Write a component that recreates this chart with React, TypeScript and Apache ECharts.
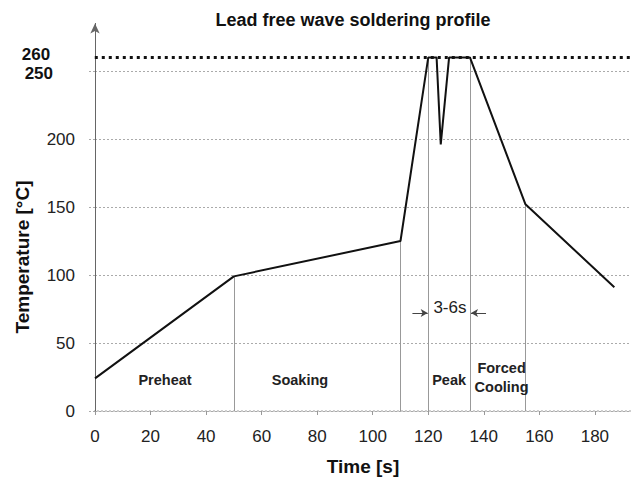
import React, { useEffect, useRef } from "react";
import * as echarts from "echarts";

const times = [0, 50, 110, 120, 123, 124.5, 127.5, 135, 155, 187];
const temps = [24, 99, 125, 260, 260, 196, 260, 260, 152, 91];
const xTicks = [0, 20, 40, 60, 80, 100, 120, 140, 160, 180];
const yTicks = [0, 50, 100, 150, 200, 250];
const peakLimit = 260;
const dropTimes = [50, 110, 120, 135, 155];
const dropTemps = [99, 125, 260, 260, 152];
const phaseNames = ["Preheat", "Soaking", "Peak", "Forced\nCooling"];
const phaseTimes = [25.2, 73.8, 127.5, 146.4];
const phaseTemps = [22.8, 22.8, 22.8, 24.6];
const dwellText = "3-6s";

const FONT = "'Liberation Sans', Arial, sans-serif";

export default function App() {
  const ref = useRef<HTMLDivElement>(null);
  useEffect(() => {
    const chart = echarts.init(ref.current!, null, { renderer: "svg" });
    const markLines: any[] = dropTimes.map((t, i) => [
      { coord: [t, dropTemps[i]], symbol: "none" },
      { coord: [t, 0], symbol: "none" },
    ]);
    markLines.push([
      { coord: [114.3, 72], symbol: "none", lineStyle: { color: "#444", width: 1, type: "solid" } },
      { coord: [119.8, 72], symbol: "arrow", symbolSize: [6, 7] },
    ]);
    markLines.push([
      { coord: [140.8, 72], symbol: "none", lineStyle: { color: "#444", width: 1, type: "solid" } },
      { coord: [135.4, 72], symbol: "arrow", symbolSize: [6, 7] },
    ]);
    const markPoints: any[] = phaseNames.map((n, i) => ({
      coord: [phaseTimes[i], phaseTemps[i]],
      symbol: "circle",
      symbolSize: 0,
      label: { show: true, position: "inside", formatter: n, fontFamily: FONT, fontWeight: "bold",
        fontSize: 14.5, color: "#222", lineHeight: 19 },
    }));
    markPoints.push({
      coord: [127.8, 76.4], symbol: "circle", symbolSize: 0,
      label: { show: true, position: "inside", formatter: dwellText, fontFamily: FONT,
        fontSize: 17, color: "#222" },
    });
    markPoints.push({
      coord: [0, peakLimit], symbol: "circle", symbolSize: 0,
      label: { show: true, position: "inside", offset: [-59, -3], formatter: String(peakLimit),
        fontFamily: FONT, fontWeight: "bold", fontSize: 17, lineHeight: 13, color: "#111" },
    });
    chart.setOption({
      animation: false,
      title: {
        text: "Lead free wave soldering profile",
        left: 348, top: 6, textAlign: "center",
        textStyle: { fontFamily: FONT, fontWeight: "bold", fontSize: 18, color: "#111" },
      },
      grid: { left: 95, top: 23.4, width: 536, height: 387.6 },
      xAxis: {
        type: "value", min: 0, max: 193, interval: 20,
        name: "Time [s]", nameLocation: "middle", nameGap: 46,
        nameTextStyle: { fontFamily: FONT, fontWeight: "bold", fontSize: 19, color: "#111" },
        axisLine: { show: false },
        axisTick: { show: true, length: 4, lineStyle: { color: "#999" } },
        splitLine: { show: false },
        axisLabel: { showMaxLabel: false, fontFamily: FONT, fontSize: 17, color: "#222", margin: 17,
          formatter: (v: number) => (xTicks.includes(v) ? String(v) : "") },
      },
      yAxis: {
        type: "value", min: 0, max: 285, interval: 50,
        axisLine: { show: true, symbol: ["none", "arrow"], symbolSize: [7, 10], lineStyle: { color: "#666", width: 1 } },
        axisTick: { show: true, length: 7, lineStyle: { color: "#aaa", type: [2, 2] } },
        splitLine: { show: true, showMaxLine: false, lineStyle: { color: "#aaa", width: 1, type: [2, 2] } },
        axisLabel: {
          showMaxLabel: false, fontFamily: FONT, fontSize: 17, color: "#222", margin: 20,
          formatter: (v: number) => (v === 250 ? "{b|250}" : yTicks.includes(v) ? String(v) : ""),
          rich: { b: { fontFamily: FONT, fontWeight: "bold", fontSize: 17, lineHeight: 13, color: "#111", padding: [4, 22, 0, 0] } },
        },
      },
      graphic: [
        {
          type: "text", x: 22, y: 257, rotation: Math.PI / 2,
          style: { text: "Temperature [°C]", fontFamily: FONT, fontWeight: "bold", fontSize: 19,
            fill: "#111", align: "center", verticalAlign: "middle" },
        },
      ],
      series: [
        {
          type: "line",
          data: [[-6.5, 0], [193, 0]],
          showSymbol: false,
          clip: false,
          silent: true,
          lineStyle: { color: "#999", width: 1, type: [2, 2] },
          z: 1,
        },
        {
          type: "line",
          data: [[-2.6, peakLimit], [193, peakLimit]],
          showSymbol: false,
          clip: false,
          silent: true,
          lineStyle: { color: "#111", width: 3, type: [3, 4] },
          z: 4,
        },
        {
          type: "line",
          data: times.map((t, i) => [t, temps[i]]),
          showSymbol: false,
          lineStyle: { color: "#111", width: 2 },
          clip: false,
          markLine: {
            silent: true, symbol: "none", animation: false,
            label: { show: false },
            lineStyle: { color: "#999", width: 1, type: "solid" },
            data: markLines,
          },
          markPoint: { silent: true, animation: false, data: markPoints },
          z: 5,
        },
      ],
    });
    return () => chart.dispose();
  }, []);
  return <div ref={ref} style={{ position: "fixed", left: 0, top: 0, width: 631, height: 481, background: "#fff" }} />;
}
